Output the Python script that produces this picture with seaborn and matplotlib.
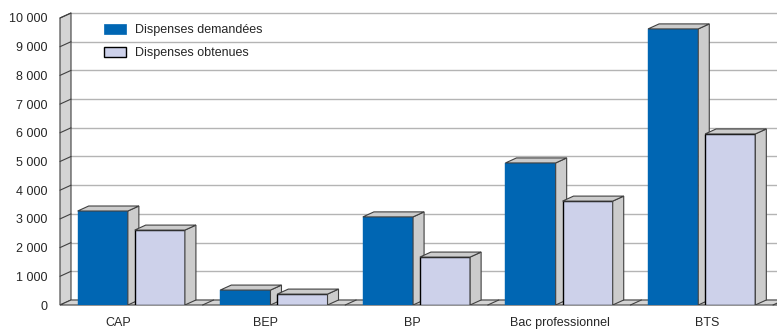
import matplotlib
matplotlib.use("Agg")
import matplotlib.pyplot as plt
import seaborn as sns
import pandas as pd
from matplotlib.patches import Polygon, Patch

# values
diplomes = ["CAP", "BEP", "BP", "Bac professionnel", "BTS"]
demandees = [3275, 520, 3070, 4950, 9620]
obtenues = [2610, 380, 1670, 3620, 5960]
series = ["Dispenses demandées", "Dispenses obtenues"]
yticks = list(range(0, 10001, 1000))
ytick_labels = [f"{v:,}".replace(",", " ") for v in yticks]

blue = "#0066b3"
lilac = "#cdd1ea"
side_grey = "#cccccc"
edge = "#404040"

df = pd.DataFrame({
    "diplome": diplomes * 2,
    "serie": [series[0]] * len(diplomes) + [series[1]] * len(diplomes),
    "nombre": demandees + obtenues,
})

sns.set_style("white")
plt.rcParams["font.family"] = ["Liberation Sans", "DejaVu Sans"]

W, H = 777, 330
fig = plt.figure(figsize=(W / 100, H / 100), dpi=100)
ax = fig.add_axes([60 / W, 25 / H, 713 / W, 287 / H])

sns.barplot(df, x="diplome", y="nombre", hue="serie", palette=[blue, lilac],
            width=0.8, gap=0.12, ax=ax, legend=False, saturation=1, zorder=2)

n = len(diplomes)
ax.set_xlim(-0.5, n - 0.5)
ax.set_ylim(0, 10000)

# depth of the fake 3D, 11 px right and 5 px up
ddx = 11 / (713 / n)
ddy = 5 / (287 / 10000)

# bars: front faces + side & top
for i, bar in enumerate(ax.patches):
    x0 = bar.get_x()
    w = bar.get_width()
    h = bar.get_height()
    z = 2 if i < n else 3
    bar.set_zorder(z)
    if i < n:
        bar.set_edgecolor(blue)
        bar.set_linewidth(0.3)
    else:
        bar.set_edgecolor("black")
        bar.set_linewidth(1.0)
    side = Polygon([(x0 + w, 0), (x0 + w + ddx, ddy), (x0 + w + ddx, h + ddy), (x0 + w, h)],
                   closed=True, facecolor=side_grey, edgecolor=edge, lw=0.8, zorder=z + 0.1)
    top = Polygon([(x0, h), (x0 + ddx, h + ddy), (x0 + w + ddx, h + ddy), (x0 + w, h)],
                  closed=True, facecolor=side_grey, edgecolor=edge, lw=0.8, zorder=z + 0.1)
    ax.add_patch(side)
    ax.add_patch(top)

x_left, x_right = -0.5, n - 0.5

# gridlines on the back wall
for v in yticks:
    ax.plot([x_left + ddx, x_right + ddx * 2], [v + ddy, v + ddy], color="#b4b4b4",
            lw=1.0, zorder=0.5, clip_on=False)

# left wall
wall = Polygon([(x_left, 0), (x_left + ddx, ddy), (x_left + ddx, 10000 + ddy), (x_left, 10000)],
               closed=True, facecolor="#d4d4d4", edgecolor=edge, lw=0.8, zorder=1, clip_on=False)
ax.add_patch(wall)
for v in yticks[1:]:
    ax.plot([x_left, x_left + ddx], [v, v + ddy], color=edge, lw=0.8, zorder=1.1, clip_on=False)

# floor
floor = Polygon([(x_left, 0), (x_left + ddx, ddy), (x_right + ddx * 2, ddy), (x_right + ddx, 0)],
                closed=True, facecolor="#d4d4d4", edgecolor=edge, lw=0.8, zorder=1, clip_on=False)
ax.add_patch(floor)
for k in range(1, n + 1):
    ax.plot([x_left + k, x_left + k + ddx], [0, ddy], color=edge, lw=0.8, zorder=1.1, clip_on=False)

for s in ax.spines.values():
    s.set_visible(False)

ax.set_yticks(yticks)
ax.set_yticklabels(ytick_labels, fontsize=9)
ax.tick_params(axis="y", length=0, pad=9)

# category labels sit on a slightly wider spacing than the bars
ax.set_xticks([-0.093 + 1.0325 * k for k in range(n)])
ax.set_xticklabels(diplomes)
ax.tick_params(axis="x", length=0, pad=8.5, labelsize=9)
ax.set_xlabel("")
ax.set_ylabel("")

handles = [Patch(facecolor=blue, edgecolor=blue, lw=0.5),
           Patch(facecolor=lilac, edgecolor="black", lw=1.0)]
ax.legend(handles, series, loc="upper left", bbox_to_anchor=(104 / W, 1 - 23.5 / H),
          bbox_transform=fig.transFigure, frameon=False, fontsize=9,
          handlelength=1.75, handleheight=0.9, handletextpad=0.7,
          labelspacing=0.85, borderpad=0, borderaxespad=0)

fig.savefig("out.png", dpi=100)
